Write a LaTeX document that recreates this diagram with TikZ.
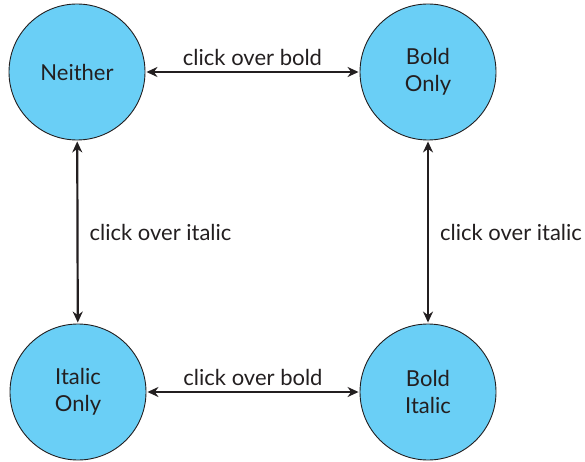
\documentclass[tikz,border=0pt]{standalone}
\usepackage{fontspec}
\setmainfont{Lato}
\usepackage{xcolor}
\usetikzlibrary{arrows.meta}
\definecolor{SkyFill}{RGB}{106,207,246}
\definecolor{InkGray}{RGB}{35,31,32}

\tikzset{
  state/.style={circle,draw=InkGray,line width=0.9pt,fill=SkyFill,
        minimum size=136pt,inner sep=0pt,align=center,
        font=\fontsize{22}{27}\selectfont,text=InkGray},
  trans/.style={{Stealth[length=11pt,width=10pt]}-{Stealth[length=11pt,width=10pt]},
        line width=2.2pt,draw=InkGray,shorten <=1pt,shorten >=1pt},
  lbl/.style={font=\fontsize{22}{26}\selectfont,text=InkGray,inner sep=2pt}
}

\begin{document}
\begin{tikzpicture}[x=1pt,y=-1pt]
  \useasboundingbox (0,0) rectangle (585,462);
  \node[state] (neither) at (77,72) {Neither};
  \node[state] (boldonly) at (428,72) {Bold\\Only};
  \node[state] (italiconly) at (78,392) {Italic\\Only};
  \node[state] (bolditalic) at (428,392) {Bold\\Italic};

  \draw[trans] (neither) -- (boldonly)
    node[lbl,midway,above=3pt] (lbltop) {click over bold};
  \draw[trans] (italiconly) -- (bolditalic)
    node[lbl,midway,above=3pt] (lblbot) {click over bold};
  \draw[trans] (neither) -- (italiconly)
    node[lbl,midway,right=9pt] (lblleft) {click over italic};
  \draw[trans] (boldonly) -- (bolditalic)
    node[lbl,midway,right=9pt] (lblright) {click over italic};
\end{tikzpicture}
\end{document}
